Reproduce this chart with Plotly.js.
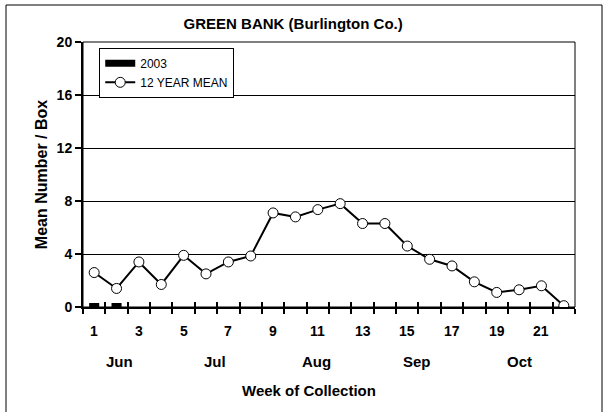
<!DOCTYPE html>
<html>
<head>
<meta charset="utf-8">
<script src="https://cdn.plot.ly/plotly-3.0.1.min.js"></script>
<style>html,body{margin:0;padding:0;background:#fff;}#chart{width:607px;height:412px;}</style>
</head>
<body>
<div id="chart"></div>
<script>
const weeks = [1,2,3,4,5,6,7,8,9,10,11,12,13,14,15,16,17,18,19,20,21,22];
const mean12 = [2.6,1.4,3.4,1.7,3.9,2.5,3.4,3.85,7.1,6.8,7.35,7.8,6.3,6.3,4.6,3.6,3.1,1.9,1.1,1.3,1.6,0.1];
const y2003 = [0.3,0.3,0,0,0,0,0,0,0,0,0,0,0,0,0,0,0,0,0,0,0,0];
const labelWeeks = [1,3,5,7,9,11,13,15,17,19,21];
const months = ['Jun','Jul','Aug','Sep','Oct'];
const monthPos = [2.15,6.4,10.95,15.45,20.0];
const boundaries = weeks.map(w => w - 0.5).concat([22.5]);

const F = 'Liberation Sans, Arial, sans-serif';

const traces = [
  {type:'bar', name:'2003', x:weeks, y:y2003, xaxis:'x2', yaxis:'y',
   marker:{color:'#000'}, width:0.45, showlegend:false},
  {type:'scatter', mode:'lines', name:'2003', x:[null], y:[null],
   line:{color:'#000', width:7}, showlegend:true},
  {type:'scatter', mode:'lines+markers', name:'12 YEAR MEAN', x:weeks, y:mean12,
   line:{color:'#000', width:2},
   marker:{symbol:'circle', size:10, color:'#fff', line:{color:'#000', width:1}}}
];

const layout = {
  width:607, height:412,
  margin:{l:83, r:32, t:42, b:105},
  paper_bgcolor:'#fff', plot_bgcolor:'#fff',
  font:{family:F, size:12, color:'#000'},
  showlegend:true,
  legend:{x:0.033, y:0.978, xanchor:'left', yanchor:'top', bgcolor:'#fff',
          bordercolor:'#000', borderwidth:1, font:{family:F, size:12, color:'#000'},
          tracegroupgap:0, itemwidth:30},
  title:{text:'<b>GREEN BANK (Burlington Co.)</b>', x:0.483, xanchor:'center', y:0.942, yanchor:'middle',
         font:{family:F, size:15, color:'#000'}},
  xaxis:{range:[0.5,22.5], tickmode:'array', tickvals:boundaries, ticktext:boundaries.map(()=>''),
         ticks:'outside', ticklen:5, tickwidth:2, tickcolor:'#000',
         showline:true, linewidth:2, linecolor:'#000', showgrid:false, zeroline:false},
  xaxis2:{overlaying:'x', matches:'x', range:[0.5,22.5], tickmode:'array', tickvals:boundaries,
          ticktext:boundaries.map(()=>''), ticks:'inside', ticklen:5, tickwidth:2, tickcolor:'#000',
          showline:false, showgrid:false, zeroline:false, side:'bottom'},
  yaxis:{range:[0,20], tickmode:'array', tickvals:[0,4,8,12,16,20], ticktext:['<b>0</b>','<b>4</b>','<b>8</b>','<b>12</b>','<b>16</b>','<b>20</b>'],
         ticks:'outside', ticklen:6, tickwidth:2, tickcolor:'#000',
         showline:true, linewidth:2, linecolor:'#000',
         showgrid:true, gridcolor:'#000', gridwidth:1, zeroline:false,
         tickfont:{family:F, size:14, color:'#000'},
         title:{text:'<b>Mean Number / Box</b>', standoff:5, font:{family:F, size:16, color:'#000'}}},
  annotations: [],
  shapes: [
    {type:'rect', xref:'paper', yref:'paper', x0:0, x1:1, y0:0, y1:1, line:{color:'#000', width:1}, layer:'below'},
    {type:'rect', xref:'paper', yref:'paper', x0:-0.1565, x1:1.0549, y0:-0.42, y1:1.1396, line:{color:'#000', width:1}, layer:'below'}
  ]
};

labelWeeks.forEach(w => layout.annotations.push({
  x:w, y:0, xref:'x', yref:'paper', yanchor:'middle', xanchor:'center', yshift:-24, text:'<b>'+w+'</b>', showarrow:false,
  font:{family:F, size:14, color:'#000'}
}));
months.forEach((m,i) => layout.annotations.push({
  x:monthPos[i], y:0, xref:'x', yref:'paper', yanchor:'middle', xanchor:'center', yshift:-54, text:'<b>'+m+'</b>', showarrow:false,
  font:{family:F, size:15, color:'#000'}
}));
layout.annotations.push({x:0.46, y:0, xref:'paper', yref:'paper', yanchor:'middle', xanchor:'center', yshift:-83,
  text:'<b>Week of Collection</b>', showarrow:false, font:{family:F, size:15, color:'#000'}});

Plotly.newPlot('chart', traces, layout, {displayModeBar:false, staticPlot:true});
</script>
</body>
</html>
